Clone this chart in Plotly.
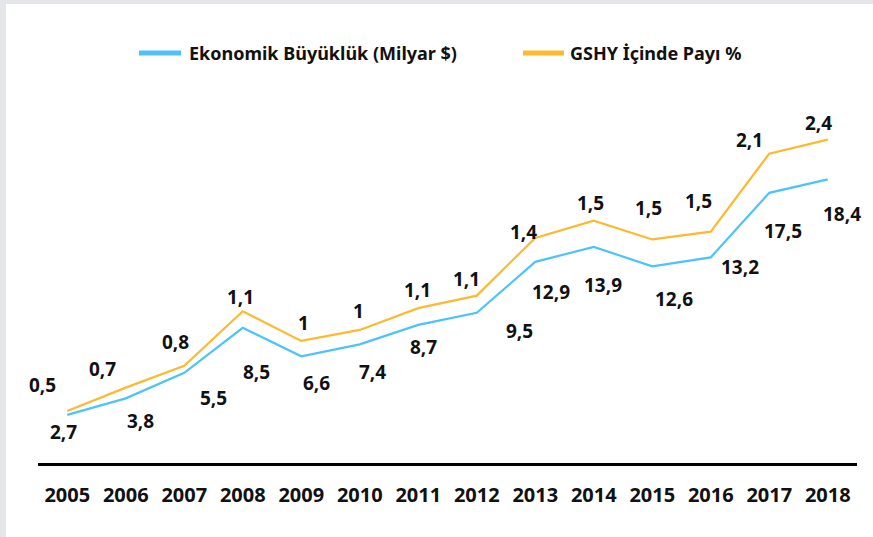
import plotly.graph_objects as go

years = ["2005", "2006", "2007", "2008", "2009", "2010", "2011",
         "2012", "2013", "2014", "2015", "2016", "2017", "2018"]
ekonomik = [2.7, 3.8, 5.5, 8.5, 6.6, 7.4, 8.7, 9.5, 12.9, 13.9, 12.6, 13.2, 17.5, 18.4]
ekonomik_labels = ["2,7", "3,8", "5,5", "8,5", "6,6", "7,4", "8,7",
                   "9,5", "12,9", "13,9", "12,6", "13,2", "17,5", "18,4"]
# share line values (labels are rounded)
pay = [0.45, 0.60, 0.74, 1.09, 0.90, 0.97, 1.11, 1.19, 1.56, 1.67, 1.55, 1.60, 2.10, 2.19]
pay_labels = ["0,5", "0,7", "0,8", "1,1", "1", "1", "1,1",
              "1,1", "1,4", "1,5", "1,5", "1,5", "2,1", "2,4"]

# label offsets in pixels (style)
blue_dx = [-4, 15, 29, 14, 15, 13, 5, 43, 16, 9, 22, 29, 14, 14]
blue_dy = [-17, -23, -25, -44, -27, -28, -22, -18, -30, -38, -33, -10, -38, -35]
orange_dx = [-25, -23, -9, -2, 2, -1, -1, -10, -12, -3, -4, -12, -20, -9]
orange_dy = [26, 19, 24, 14, 18, 19, 18, 17, 6, 18, 31, 31, 14, 17]

BLUE = "#4DC3FA"
ORANGE = "#FDB92F"
FONT = "Noto Sans"
TXT = "#111111"
FRAME = "#E4E6E9"

fig = go.Figure()
fig.add_trace(go.Scatter(x=years, y=ekonomik, mode="lines", yaxis="y",
                         line=dict(color=BLUE, width=2.2), showlegend=False,
                         name="Ekonomik Büyüklük (Milyar $)"))
fig.add_trace(go.Scatter(x=years, y=pay, mode="lines", yaxis="y2",
                         line=dict(color=ORANGE, width=2.2), showlegend=False,
                         name="GSHY İçinde Payı %"))

annotations = []
for i, yr in enumerate(years):
    annotations.append(dict(x=i, y=ekonomik[i], xref="x", yref="y",
                            text=ekonomik_labels[i], showarrow=False,
                            xshift=blue_dx[i], yshift=blue_dy[i],
                            font=dict(family=FONT, size=19, color=TXT, weight="bold")))
    annotations.append(dict(x=i, y=pay[i], xref="x", yref="y2",
                            text=pay_labels[i], showarrow=False,
                            xshift=orange_dx[i], yshift=orange_dy[i],
                            font=dict(family=FONT, size=19, color=TXT, weight="bold")))

# manual legend
annotations.append(dict(x=0.1819, y=1.1295, xref="paper", yref="paper",
                        xanchor="left", yanchor="middle", showarrow=False,
                        text="Ekonomik Büyüklük (Milyar $)",
                        font=dict(family=FONT, size=18, color=TXT, weight="bold")))
annotations.append(dict(x=0.6471, y=1.1295, xref="paper", yref="paper",
                        xanchor="left", yanchor="middle", showarrow=False,
                        text="GSHY İçinde Payı %",
                        font=dict(family=FONT, size=18, color=TXT, weight="bold")))

shapes = [
    # white card over grey paper, leaving a thin grey frame top and left
    dict(type="rect", xref="paper", yref="paper", x0=-0.0391, x1=1.05,
         y0=-0.25, y1=1.2645, line=dict(width=0), fillcolor="white", layer="below"),
    dict(type="line", xref="paper", yref="paper", x0=0.1233, x1=0.1746,
         y0=1.1295, y1=1.1295, line=dict(color=BLUE, width=5)),
    dict(type="line", xref="paper", yref="paper", x0=0.5922, x1=0.6422,
         y0=1.1295, y1=1.1295, line=dict(color=ORANGE, width=5)),
]

fig.update_layout(
    width=873, height=537,
    margin=dict(l=38, r=16, t=100, b=74),
    paper_bgcolor=FRAME, plot_bgcolor="white",
    showlegend=False,
    xaxis=dict(type="category", categoryorder="array", categoryarray=years,
               range=[-0.5, len(years) - 0.5], autorange=False,
               showline=True, linecolor="black", linewidth=3,
               ticks="", showgrid=False, zeroline=False,
               tickfont=dict(family=FONT, size=20, color=TXT, weight="bold"),
               ticklabelstandoff=12),
    yaxis=dict(range=[-0.51, 23.69], visible=False),
    yaxis2=dict(range=[0.117, 2.444], overlaying="y", visible=False),
    annotations=annotations,
    shapes=shapes,
)

fig.write_html("out.html", config={"displayModeBar": False},
               post_script="document.body.style.margin='0';document.body.style.padding='0';")
